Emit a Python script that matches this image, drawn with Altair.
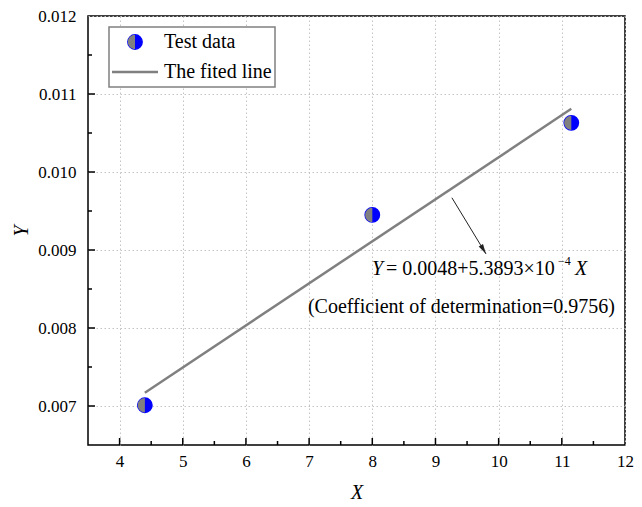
import altair as alt
import pandas as pd

# ---- data ----
x_data = [4.4, 8.0, 11.15]
y_data = [0.00701, 0.00945, 0.01063]
fit_x = [4.4, 11.15]
fit_y = [0.00717, 0.01081]
x_labels = [4, 5, 6, 7, 8, 9, 10, 11, 12]
y_labels = [0.007, 0.008, 0.009, 0.010, 0.011, 0.012]
x_major = [4, 5, 6, 7, 8, 9, 10, 11]
x_minor = [4.5, 5.5, 6.5, 7.5, 8.5, 9.5, 10.5, 11.5]
y_major = [0.007, 0.008, 0.009, 0.010, 0.011]
y_minor = [0.0075, 0.0085, 0.0095, 0.0105, 0.0115]
arrow_from = [9.26, 0.00967]
arrow_to = [9.80, 0.00895]
eq_anchor = [7.995, 0.008756]
r2_anchor = [9.41, 0.008269]
legend_labels = ["Test data", "The fited line"]

W, H = 537, 429
FONT = "Liberation Serif, Times New Roman, serif"
BLUE = "#0000ff"
GRAY = "#808080"
HALF = "M0,-1A1,1,0,0,0,0,1Z"
HEAD = "M0,0L-0.5,-2L0.5,-2Z"
CIRC_SIZE = 205
HALF_SIZE = 205

xs = alt.Scale(domain=[3.5, 12], nice=False, zero=False)
ys = alt.Scale(domain=[0.0065, 0.012], nice=False, zero=False)

xaxis = alt.Axis(values=x_labels, format="d", grid=True, gridColor="#c4c4c4",
                 gridDash=[1.5, 2.5], gridWidth=1, domain=False, ticks=False, tickSize=0,
                 labelFont=FONT, labelFontSize=17, labelPadding=8, labelColor="black",
                 labelFlush=False, labelOverlap=False,
                 title="X", titleFont=FONT, titleFontStyle="italic", titleFontSize=20,
                 titleFontWeight="normal", titlePadding=13, titleColor="black")
yaxis = alt.Axis(values=y_labels, format=".3f", grid=True, gridColor="#c4c4c4",
                 gridDash=[1.5, 2.5], gridWidth=1, domain=False, ticks=False, tickSize=0,
                 labelFont=FONT, labelFontSize=17, labelPadding=12, labelColor="black",
                 labelFlush=False, labelOverlap=False,
                 title="Y", titleFont=FONT, titleFontStyle="italic", titleFontSize=20,
                 titleFontWeight="normal", titlePadding=6, titleColor="black")

pts_df = pd.DataFrame({"x": x_data, "y": y_data})
fit_df = pd.DataFrame({"x": fit_x, "y": fit_y})
one = pd.DataFrame({"k": [0]})


def X(field="x"):
    return alt.X(f"{field}:Q", scale=xs, axis=xaxis)


def Y(field="y"):
    return alt.Y(f"{field}:Q", scale=ys, axis=yaxis)


# inward ticks
xt_major = alt.Chart(pd.DataFrame({"x": x_major})).mark_rule(color="black", strokeWidth=1.5).encode(
    x=X(), y=alt.value(H), y2=alt.value(H - 7))
xt_minor = alt.Chart(pd.DataFrame({"x": x_minor})).mark_rule(color="black", strokeWidth=1.5).encode(
    x=X(), y=alt.value(H), y2=alt.value(H - 4))
yt_major = alt.Chart(pd.DataFrame({"y": y_major})).mark_rule(color="black", strokeWidth=1.5).encode(
    y=Y(), x=alt.value(0), x2=alt.value(7))
yt_minor = alt.Chart(pd.DataFrame({"y": y_minor})).mark_rule(color="black", strokeWidth=1.5).encode(
    y=Y(), x=alt.value(0), x2=alt.value(4))

fit = alt.Chart(fit_df).mark_line(color=GRAY, strokeWidth=2.5).encode(x=X(), y=Y())

pts_blue = alt.Chart(pts_df).mark_point(shape="circle", filled=True, size=CIRC_SIZE, fill=BLUE,
                                        stroke=BLUE, strokeWidth=1.5, opacity=1).encode(x=X(), y=Y())
pts_gray = alt.Chart(pts_df).mark_point(shape=HALF, filled=True, size=HALF_SIZE, fill=GRAY,
                                        strokeWidth=0, opacity=1).encode(x=X(), y=Y())

arrow_df = pd.DataFrame({"x": [arrow_from[0]], "y": [arrow_from[1]],
                         "x2": [arrow_to[0]], "y2": [arrow_to[1]]})
arrow = alt.Chart(arrow_df).mark_rule(color="#222222", strokeWidth=1).encode(
    x=X(), y=Y(), x2="x2:Q", y2="y2:Q")
head = alt.Chart(pd.DataFrame({"x": [arrow_to[0]], "y": [arrow_to[1]]})).mark_point(
    shape=HEAD, filled=True, fill="#222222", strokeWidth=0, size=100, angle=329, opacity=1).encode(
    x=X(), y=Y())

eq_df = pd.DataFrame({"x": [eq_anchor[0]], "y": [eq_anchor[1]]})


def eq_piece(text, dx, dy=0, size=20, style="normal"):
    return alt.Chart(eq_df).mark_text(text=text, align="left", baseline="middle", dx=dx, dy=dy,
                                      font=FONT, fontSize=size, fontStyle=style,
                                      color="black").encode(x=X(), y=Y())


eq = [
    eq_piece("Y", 0, style="italic"),
    eq_piece("= 0.0048+5.3893×10", 14),
    eq_piece("−4", 186, dy=-8, size=12),
    eq_piece("X", 203, style="italic"),
]

r2 = alt.Chart(pd.DataFrame({"x": [r2_anchor[0]], "y": [r2_anchor[1]]})).mark_text(
    text="(Coefficient of determination=0.9756)", align="center", baseline="middle",
    font=FONT, fontSize=20, color="black").encode(x=X(), y=Y())

# legend (drawn inside the plot area)
leg_box = alt.Chart(one).mark_rect(fill="white", stroke=GRAY, strokeWidth=1.5).encode(
    x=alt.value(21), x2=alt.value(187), y=alt.value(11), y2=alt.value(71))
leg_blue = alt.Chart(one).mark_point(shape="circle", filled=True, size=CIRC_SIZE, fill=BLUE,
                                     stroke=BLUE, strokeWidth=1.5, opacity=1).encode(
    x=alt.value(47), y=alt.value(26))
leg_gray = alt.Chart(one).mark_point(shape=HALF, filled=True, size=HALF_SIZE, fill=GRAY,
                                     strokeWidth=0, opacity=1).encode(
    x=alt.value(47), y=alt.value(26))
leg_line = alt.Chart(one).mark_rule(color=GRAY, strokeWidth=2.5).encode(
    x=alt.value(24), x2=alt.value(70), y=alt.value(56))
leg_t1 = alt.Chart(one).mark_text(text=legend_labels[0], align="left", baseline="middle",
                                  font=FONT, fontSize=20, color="black").encode(
    x=alt.value(76), y=alt.value(26))
leg_t2 = alt.Chart(one).mark_text(text=legend_labels[1], align="left", baseline="middle",
                                  font=FONT, fontSize=20, color="black").encode(
    x=alt.value(76), y=alt.value(56))

chart = alt.layer(
    xt_major, xt_minor, yt_major, yt_minor, fit, pts_blue, pts_gray,
    arrow, head, *eq, r2, leg_box, leg_blue, leg_gray, leg_line, leg_t1, leg_t2
).properties(
    width=W, height=H,
    padding={"left": 88, "top": 16, "right": 17, "bottom": 62},
    autosize=alt.AutoSizeParams(type="none"),
    background="white",
).configure_view(stroke="black", strokeWidth=1.5)

chart.save("out.html", embed_options={"renderer": "svg", "actions": False})
